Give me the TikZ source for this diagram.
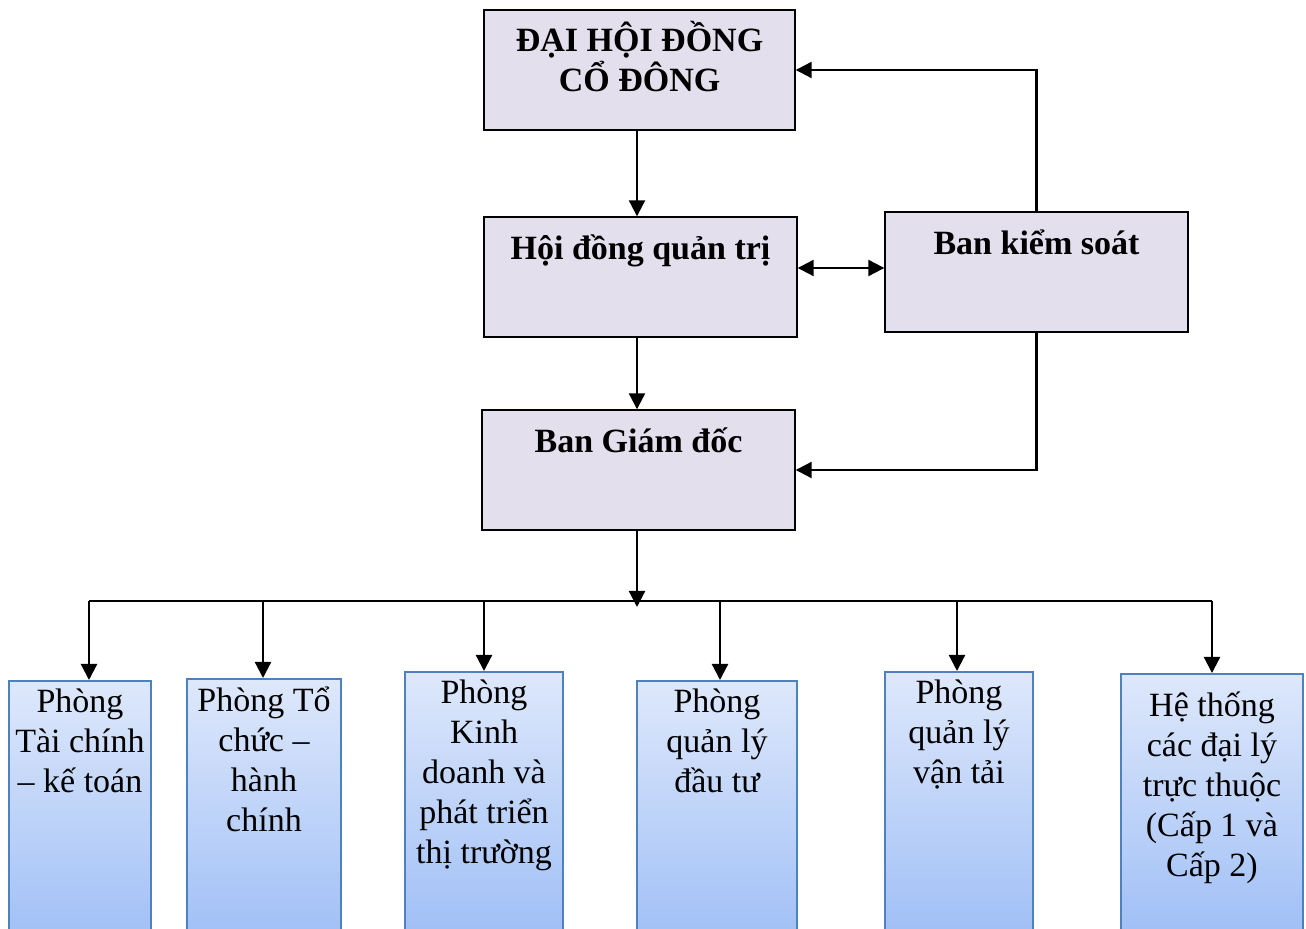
\documentclass[tikz,border=0pt]{standalone}
\usepackage{fontspec}
\setmainfont{Liberation Serif}
\usetikzlibrary{arrows.meta}
\definecolor{boardfill}{HTML}{E4DFEC}
\definecolor{depttop}{HTML}{DEE8FB}
\definecolor{deptbot}{HTML}{9EBEF6}
\definecolor{deptline}{HTML}{4F81BD}
\tikzset{
  board/.style={draw,rectangle,fill=boardfill,line width=0.7pt,minimum height=60pt,inner sep=0pt},
  dept/.style={draw=deptline,rectangle,top color=depttop,bottom color=deptbot,line width=0.8pt,minimum height=135pt,inner sep=0pt,anchor=north},
  headtxt/.style={font=\fontsize{17pt}{20pt}\selectfont\bfseries,align=center,inner sep=0pt,anchor=north},
  depttxt/.style={font=\fontsize{17pt}{20pt}\selectfont,align=center,inner sep=0pt,anchor=north},
  link/.style={-{Triangle[length=8pt,width=8pt]},line width=1.1pt},
  twolink/.style={{Triangle[length=8pt,width=8pt]}-{Triangle[length=8pt,width=8pt]},line width=1.1pt},
}
\begin{document}
\begin{tikzpicture}[x=0.5pt,y=-0.5pt]
	\useasboundingbox (0,0) rectangle (1306,929);
	\clip (0,0) rectangle (1306,929);
	%% upper boxes
	\node (DHCD) at (639.5,70) [board,minimum width=155.5pt,label={[headtxt,yshift=-6pt]north:{ĐẠI HỘI ĐỒNG\\CỔ ĐÔNG}}] {};
	\node (HDQT) at (640.5,277) [board,minimum width=156.5pt,label={[headtxt,yshift=-9pt]north:{Hội đồng quản trị}}] {};
	\node (BKS) at (1036.5,272) [board,minimum width=151.5pt,label={[headtxt,yshift=-9pt]north:{Ban kiểm soát}}] {};
	\node (BGD) at (638.5,470) [board,minimum width=156.5pt,label={[headtxt,yshift=-9pt]north:{Ban Giám đốc}}] {};
	%% departments
	\node (P1) at (80,680) [dept,minimum width=71pt,label={[depttxt,yshift=-4pt]north:{Phòng\\Tài chính\\– kế toán}}] {};
	\node (P2) at (264,678) [dept,minimum width=77pt,label={[depttxt,yshift=-4pt]north:{Phòng Tổ\\chức –\\hành\\chính}}] {};
	\node (P3) at (484,671) [dept,minimum width=79pt,label={[depttxt,yshift=-4pt]north:{Phòng\\Kinh\\doanh và\\phát triển\\thị trường}}] {};
	\node (P4) at (717,680) [dept,minimum width=80pt,label={[depttxt,yshift=-4pt]north:{Phòng\\quản lý\\đầu tư}}] {};
	\node (P5) at (959,671) [dept,minimum width=74pt,label={[depttxt,yshift=-4pt]north:{Phòng\\quản lý\\vận tải}}] {};
	\node (P6) at (1212,673) [dept,minimum width=91pt,label={[depttxt,yshift=-9pt]north:{Hệ thống\\các đại lý\\trực thuộc\\(Cấp 1 và\\Cấp 2)}}] {};
	%% bus
	\coordinate (bus) at (637,601);
	\coordinate (b1) at (89,601);
	\coordinate (b2) at (263,601);
	\coordinate (b3) at (484,601);
	\coordinate (b4) at (720,601);
	\coordinate (b5) at (957,601);
	\coordinate (b6) at (1212,601);
	%% links
	\draw [link] (DHCD.south -| bus) -- (HDQT.north -| bus);
	\draw [link] (HDQT.south -| bus) -- (BGD.north -| bus);
	\draw [twolink] (HDQT.east |- 0,268) -- (BKS.west |- 0,268);
	\draw [link] (BKS.north) |- (DHCD.east);
	\draw [link] (BKS.south) |- (BGD.east);
	\draw [link,shorten >=-3pt] (BGD.south -| bus) -- (bus);
	\draw [line width=0.7pt] (b1) -- (b6);
	\draw [link] (b1) -- (b1 |- P1.north);
	\draw [link] (b2) -- (b2 |- P2.north);
	\draw [link] (b3) -- (b3 |- P3.north);
	\draw [link] (b4) -- (b4 |- P4.north);
	\draw [link] (b5) -- (b5 |- P5.north);
	\draw [link] (b6) -- (b6 |- P6.north);
	%
\end{tikzpicture}
\end{document}
